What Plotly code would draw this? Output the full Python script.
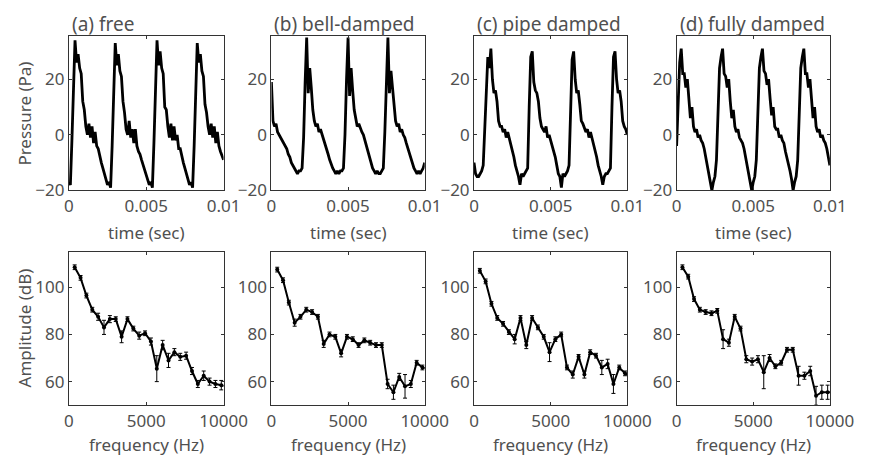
import numpy as np
import plotly.graph_objects as go

# ---------------- data ----------------
titles = ["(a) free", "(b) bell-damped", "(c) pipe damped", "(d) fully damped"]

# time axis (sec), 0.1 ms sampling
time_s = np.round(np.linspace(0, 0.01, 101), 6)

pressure_a = [-17, -18, -2, 16,
              34, 26, 29, 24, 22, 12, 9, 3, 0, 4, -1, 3, -3, 1, -4, -5, -8, -10, -12, -14, -16, -18, -17, -19, -4, 15,
              33, 25, 29, 23, 21, 12, 8, 2, 0, 5, -1, 2, -3, 2, -4, -6, -7, -9, -11, -13, -15, -16, -18, -17, -19, -3, 16,
              34, 25, 30, 24, 22, 10, 9, 3, -1, 4, -2, 3, -2, 0, -5, -5, -8, -10, -12, -14, -16, -18, -17, -19, -4, 15,
              33, 26, 29, 23, 21, 11, 8, 3, 0, 4, -1, 3, -3, 1, -4, -6, -8, -9]

pressure_b = [19, 5, 3, 4, 1, 0, -1, -2, -3, -4, -5, -7, -8, -10, -11, -12, -13, -14, -13, -13, -12, -1, 19,
              35, 15, 24, 17, 9, 5, 3, 4, 1, 2, 0, -1, -3, -5, -7, -9, -11, -12, -13, -14, -13, -14, -13, -13, -12, 0, 20,
              35, 14, 24, 16, 9, 6, 3, 4, 2, 1, 0, -2, -4, -6, -8, -10, -12, -13, -14, -13, -14, -14, -13, -12, 1, 21,
              35, 15, 23, 17, 10, 5, 3, 4, 1, 2, 0, -1, -3, -5, -7, -9, -11, -12, -13, -14, -13, -14, -13, -12, -10]

pressure_c = [-10, -14, -15, -15, -14, -13, -11, 3, 19, 28, 24,
              31, 20, 15, 16, 12, 5, 3, 3, 1, 2, -1, 1, -1, -3, -5, -8, -11, -13, -15, -18, -14, -15, -14, -13, -12, 10, 28,
              30, 19, 16, 15, 12, 6, 3, 2, 1, 3, -1, 0, -2, -3, -6, -8, -11, -14, -15, -19, -14, -15, -14, -13, -11, 9, 27,
              30, 20, 15, 16, 11, 5, 4, 2, 1, 2, -1, 1, -1, -4, -5, -8, -11, -13, -15, -18, -15, -14, -14, -13, -12, 10, 28,
              30, 20, 15, 16, 12, 5, 3, 2, 0]

pressure_d = [-4, 15, 26,
              31, 22, 22, 17, 20, 13, 6, 10, 3, 1, 2, -1, 0, -2, -3, -5, -8, -11, -13, -16, -20, -17, -15, -9, 10, 24, 28,
              31, 22, 21, 17, 20, 12, 6, 9, 3, 1, 2, -1, -2, -3, -5, -8, -11, -13, -16, -20, -17, -15, -9, 10, 24, 28,
              31, 23, 22, 18, 20, 13, 7, 10, 3, 2, 2, -1, 0, -2, -3, -6, -8, -11, -13, -16, -20, -17, -15, -9, 10, 24, 28,
              31, 22, 22, 17, 20, 13, 6, 10, 3, 1, 2, -1, 0, -2, -3, -5, -8, -11]

# harmonic frequencies (Hz)
freq_hz = [379, 758, 1137, 1516, 1895, 2274, 2653, 3032, 3411, 3790, 4169, 4548, 4927, 5306,
           5685, 6064, 6443, 6822, 7201, 7580, 7959, 8338, 8717, 9096, 9475, 9854, 10233]

amp_a = [108.5, 104, 96.5, 90.5, 87.5, 83, 86.5, 86.5, 79, 86.5, 82.5, 79.5, 80.5, 77,
         65.5, 75.5, 69, 72.5, 70.5, 71, 64.5, 59, 62.5, 60, 59, 58.5, 58]
err_a = [1, 1, 1, 1, 1.5, 3, 1.5, 1, 2.5, 1, 1, 1.5, 1, 1.5, 5.5, 2, 3, 1.5, 1.5, 1.5, 1.5, 1.5, 2, 1.5, 1.5, 2, 1]

amp_b = [107.5, 103, 93.5, 85, 87.5, 90.5, 89.5, 87.5, 76, 80, 79, 72, 79, 78,
         75.5, 77.5, 76.5, 75.5, 75.5, 59, 55.5, 62, 58, 59, 68, 66, 65.5]
err_b = [1, 1, 1, 1.5, 1, 1, 1, 1, 1.5, 1, 1, 1.5, 1, 1, 1, 1, 1, 1, 1, 2, 3, 1.5, 5, 1.5, 1, 1, 1]

amp_c = [107, 102.5, 93, 87, 84.5, 81, 78, 87, 75.5, 87, 83, 79, 72.5, 78,
         80, 66, 63, 70.5, 63, 72.5, 71, 66, 67.5, 59, 66, 63.5, 62.5]
err_c = [1, 1, 1, 1, 1, 1, 2, 1, 1.5, 1, 1, 1, 4, 1, 1, 1, 1.5, 1, 1.5, 1, 1, 3, 2, 4, 1, 1, 1]

amp_d = [108.5, 104.5, 95, 90.5, 89.5, 89, 90, 78, 76.5, 87.5, 82.5, 69.5, 68.5, 69.5,
         64, 70, 66.5, 68, 73.5, 73.5, 62.5, 62.5, 64.5, 54, 55.5, 55.5, 55.5]
err_d = [1, 1, 1, 1, 1, 1, 1, 4, 1.5, 1, 1, 1.5, 1.5, 1.5, 7, 1.5, 1, 1, 1, 1, 4, 1.5, 2, 4, 3, 3, 1]

pressures = [pressure_a, pressure_b, pressure_c, pressure_d]
amps = [amp_a, amp_b, amp_c, amp_d]
errs = [err_a, err_b, err_c, err_d]

time_ticks = [0, 0.005, 0.01]
time_ticktext = ["0", "0.005", "0.01"]
press_ticks = [-20, 0, 20]
freq_ticks = [0, 5000, 10000]
amp_ticks = [60, 80, 100]

# ---------------- layout ----------------
W, H = 880, 466
x_left = [66, 275.5, 485, 694.5]
x_right = [226, 434, 643.5, 853]
top_y = (37, 195)
bot_y = (258, 415)

FONT = "Noto Sans"
TXT = "#505050"
AX = "#333333"

fig = go.Figure()
layout = dict(width=W, height=H, margin=dict(l=0, r=0, t=0, b=0),
              paper_bgcolor="white", plot_bgcolor="white", showlegend=False,
              font=dict(family=FONT, size=17, color=TXT))

axis_common = dict(showline=True, mirror="ticks", linecolor=AX, linewidth=1,
                   ticks="inside", ticklen=3, tickcolor=AX, tickwidth=1,
                   showgrid=False, zeroline=False,
                   tickfont=dict(family=FONT, size=17, color=TXT))

annotations = []
for i in range(4):
    xd = [x_left[i] / W, x_right[i] / W]
    ti = 2 * i + 1
    bi = 2 * i + 2
    tx = "x" if ti == 1 else f"x{ti}"
    ty = "y" if ti == 1 else f"y{ti}"
    bx = f"x{bi}"
    by = f"y{bi}"

    fig.add_trace(go.Scatter(x=time_s, y=pressures[i], mode="lines",
                             line=dict(color="black", width=2.8),
                             xaxis=tx, yaxis=ty, hoverinfo="skip"))
    fig.add_trace(go.Scatter(x=freq_hz, y=amps[i], mode="lines+markers",
                             line=dict(color="black", width=2),
                             marker=dict(color="black", size=4),
                             error_y=dict(type="data", array=errs[i], visible=True,
                                          color="black", thickness=1, width=2),
                             xaxis=bx, yaxis=by, hoverinfo="skip", cliponaxis=True))

    tkx = "xaxis" if ti == 1 else f"xaxis{ti}"
    tky = "yaxis" if ti == 1 else f"yaxis{ti}"
    layout[tkx] = dict(axis_common, domain=xd, anchor=ty, range=[0, 0.01],
                       tickvals=time_ticks, ticktext=time_ticktext)
    layout[tky] = dict(axis_common, domain=[1 - top_y[1] / H, 1 - top_y[0] / H], anchor=tx,
                       range=[-20, 35.5], tickvals=press_ticks)
    layout[f"xaxis{bi}"] = dict(axis_common, domain=xd, anchor=by, range=[0, 10000],
                                tickvals=freq_ticks, ticktext=["0", "5000", "10000"])
    layout[f"yaxis{bi}"] = dict(axis_common, domain=[1 - bot_y[1] / H, 1 - bot_y[0] / H], anchor=bx,
                                range=[50, 115], tickvals=amp_ticks)

    cx = (x_left[i] + x_right[i]) / 2 / W
    annotations.append(dict(text=titles[i], x=(x_left[i] + 1) / W, y=1 - 25 / H,
                            xref="paper", yref="paper", xanchor="left", yanchor="middle",
                            showarrow=False, font=dict(family=FONT, size=19, color=TXT)))
    annotations.append(dict(text="time (sec)", x=cx, y=1 - 238 / H,
                            xref="paper", yref="paper", xanchor="center", yanchor="middle",
                            showarrow=False, font=dict(family=FONT, size=17, color=TXT)))
    annotations.append(dict(text="frequency (Hz)", x=cx, y=1 - 455 / H,
                            xref="paper", yref="paper", xanchor="center", yanchor="middle",
                            showarrow=False, font=dict(family=FONT, size=17, color=TXT)))

annotations.append(dict(text="Pressure (Pa)", x=20 / W, y=1 - 116 / H, textangle=-90,
                        xref="paper", yref="paper", xanchor="center", yanchor="middle",
                        showarrow=False, font=dict(family=FONT, size=17, color=TXT)))
annotations.append(dict(text="Amplitude (dB)", x=20 / W, y=1 - 336 / H, textangle=-90,
                        xref="paper", yref="paper", xanchor="center", yanchor="middle",
                        showarrow=False, font=dict(family=FONT, size=17, color=TXT)))
layout["annotations"] = annotations

fig.update_layout(**layout)
fig.write_html("out.html")
